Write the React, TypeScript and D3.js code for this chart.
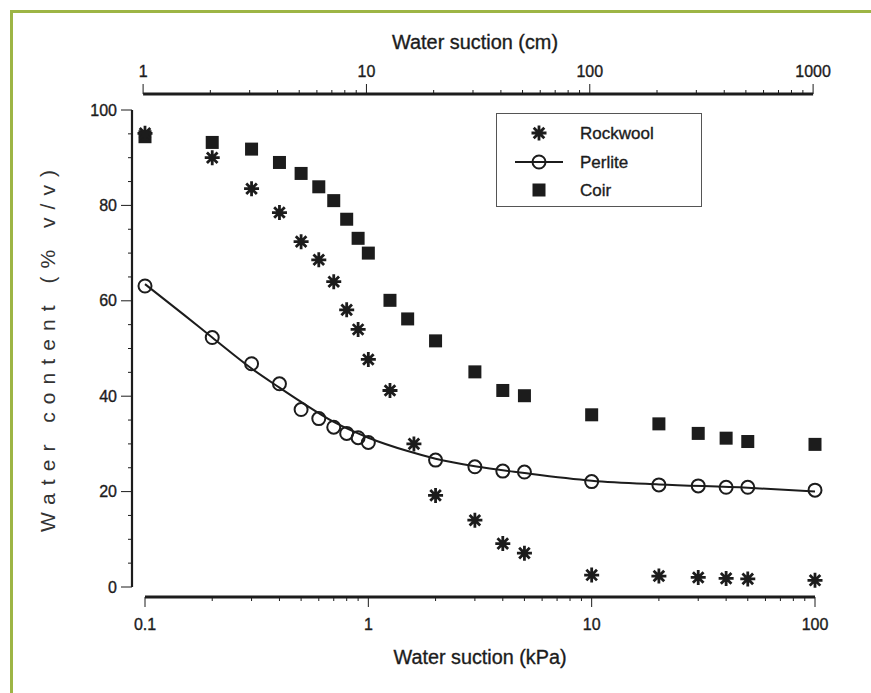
import * as d3 from 'd3';

const WIDTH = 871;
const HEIGHT = 693;
const FONT = "'Liberation Sans', Arial, sans-serif";
const INK = '#1c1c1c';
const KPA_TO_CM = 10.197;

// suction in kPa, water content in % v/v
const rockwoolX = [0.1, 0.2, 0.3, 0.4, 0.5, 0.6, 0.7, 0.8, 0.9, 1, 1.25, 1.6, 2, 3, 4, 5, 10, 20, 30, 40, 50, 100];
const rockwoolY = [95.1, 90.0, 83.5, 78.5, 72.4, 68.6, 64.0, 58.1, 54.0, 47.7, 41.2, 30.0, 19.2, 14.0, 9.1, 7.1, 2.5, 2.3, 2.0, 1.8, 1.7, 1.4];

const perliteX = [0.1, 0.2, 0.3, 0.4, 0.5, 0.6, 0.7, 0.8, 0.9, 1, 2, 3, 4, 5, 10, 20, 30, 40, 50, 100];
const perliteY = [63.1, 52.3, 46.8, 42.6, 37.2, 35.3, 33.5, 32.2, 31.3, 30.3, 26.6, 25.2, 24.3, 24.1, 22.1, 21.4, 21.2, 20.9, 20.9, 20.3];

// fitted curve through perlite
const perliteFitX = [0.1, 0.15, 0.2, 0.3, 0.4, 0.5, 0.7, 1, 1.5, 2, 3, 5, 10, 20, 50, 100];
const perliteFitY = [63.5, 57.0, 52.3, 45.8, 41.8, 38.8, 34.6, 31.3, 28.5, 26.9, 25.3, 23.9, 22.3, 21.5, 20.8, 20.0];

const coirX = [0.1, 0.2, 0.3, 0.4, 0.5, 0.6, 0.7, 0.8, 0.9, 1, 1.25, 1.5, 2, 3, 4, 5, 10, 20, 30, 40, 50, 100];
const coirY = [94.4, 93.2, 91.8, 89.0, 86.7, 83.9, 81.0, 77.1, 73.1, 70.0, 60.1, 56.2, 51.6, 45.1, 41.2, 40.1, 36.1, 34.2, 32.2, 31.2, 30.5, 29.9];

const kpaTicks = [0.1, 1, 10, 100];
const cmTicks = [1, 10, 100, 1000];
const yTicks = [0, 20, 40, 60, 80, 100];

// plot frame (pixels)
const X0 = 145;
const X1 = 815;
const Y_TOP = 110;
const Y_BOTTOM = 587;
const Y_AXIS_X = 132;
const BOTTOM_AXIS_Y = 597;
const TOP_AXIS_Y = 94;

const minorLog = (lo: number, hi: number) => {
  const out: number[] = [];
  for (let d = lo; d < hi; d *= 10) {
    for (let k = 2; k <= 9; k++) out.push(d * k);
  }
  return out;
};

const Star = ({ x, y, r = 7.5 }: { x: number; y: number; r?: number }) => {
  const a = r * Math.SQRT1_2;
  return (
    <path
      d={`M${x - r},${y}H${x + r}M${x},${y - r}V${y + r}M${x - a},${y - a}L${x + a},${y + a}M${x - a},${y + a}L${x + a},${y - a}`}
      stroke={INK}
      strokeWidth={2.8}
    />
  );
};

const Chart = () => {
  const xScale = d3.scaleLog().domain([0.1, 100]).range([X0, X1]);
  const xTop = d3.scaleLog().domain([0.1 * KPA_TO_CM, 100 * KPA_TO_CM]).range([X0, X1]);
  const yScale = d3.scaleLinear().domain([0, 100]).range([Y_BOTTOM, Y_TOP]);

  const fitLine = d3
    .line<number>()
    .x((d) => xScale(perliteFitX[d]))
    .y((d) => yScale(perliteFitY[d]))
    .curve(d3.curveMonotoneX);

  const yMinor = d3.range(0, 101, 5).filter((v) => v % 20 !== 0);

  return (
    <svg width={WIDTH} height={HEIGHT} style={{ position: 'absolute', left: 0, top: 0, background: '#fff' }}>
      {/* green page frame */}
      <line x1={10} x2={WIDTH} y1={11.5} y2={11.5} stroke="#9db545" strokeWidth={3} />
      <line x1={11.5} x2={11.5} y1={10} y2={HEIGHT} stroke="#9db545" strokeWidth={3} />

      <g fontFamily={FONT} fill={INK} stroke={INK} strokeWidth={0.35}>
        {/* top axis (cm) */}
        <text x={475} y={42} textAnchor="middle" dominantBaseline="central" fontSize={20} textLength={166} lengthAdjust="spacingAndGlyphs">
          Water suction (cm)
        </text>
        {cmTicks.map((v) => (
          <text key={v} x={xTop(v)} y={71} textAnchor="middle" dominantBaseline="central" fontSize={16}>
            {v}
          </text>
        ))}

        {/* bottom axis (kPa) */}
        {kpaTicks.map((v) => (
          <text key={v} x={xScale(v)} y={624} textAnchor="middle" dominantBaseline="central" fontSize={16}>
            {v}
          </text>
        ))}
        <text x={480} y={657} textAnchor="middle" dominantBaseline="central" fontSize={20} textLength={173} lengthAdjust="spacingAndGlyphs">
          Water suction (kPa)
        </text>

        {/* left axis labels */}
        {yTicks.map((v) => (
          <text key={v} x={117} y={yScale(v)} textAnchor="end" dominantBaseline="central" fontSize={16}>
            {v}
          </text>
        ))}
      </g>

      <text
        transform="translate(47,351) rotate(-90)"
        textAnchor="middle"
        dominantBaseline="central"
        fontFamily={FONT}
        fontSize={21}
        fill="#333"
        textLength={362}
        lengthAdjust="spacing"
      >
        Water content (% v/v)
      </text>

      {/* axis lines and ticks */}
      <g stroke={INK}>
        <line x1={xTop(1)} x2={xTop(1000)} y1={TOP_AXIS_Y} y2={TOP_AXIS_Y} strokeWidth={3} />
        {minorLog(1, 1000).map((v, i) => (
          <line key={i} x1={xTop(v)} x2={xTop(v)} y1={TOP_AXIS_Y} y2={TOP_AXIS_Y - 4} strokeWidth={1} />
        ))}
        {cmTicks.map((v) => (
          <line key={v} x1={xTop(v)} x2={xTop(v)} y1={TOP_AXIS_Y} y2={TOP_AXIS_Y - 10} strokeWidth={1} />
        ))}

        <line x1={X0} x2={X1} y1={BOTTOM_AXIS_Y} y2={BOTTOM_AXIS_Y} strokeWidth={3} />
        {minorLog(0.1, 100).map((v, i) => (
          <line key={i} x1={xScale(v)} x2={xScale(v)} y1={BOTTOM_AXIS_Y} y2={BOTTOM_AXIS_Y + 4} strokeWidth={1} />
        ))}
        {kpaTicks.map((v) => (
          <line key={v} x1={xScale(v)} x2={xScale(v)} y1={BOTTOM_AXIS_Y} y2={BOTTOM_AXIS_Y + 10} strokeWidth={1} />
        ))}

        <line x1={Y_AXIS_X} x2={Y_AXIS_X} y1={Y_TOP} y2={Y_BOTTOM} strokeWidth={2.2} />
        {yMinor.map((v) => (
          <line key={v} x1={Y_AXIS_X} x2={Y_AXIS_X - 4} y1={yScale(v)} y2={yScale(v)} strokeWidth={1} />
        ))}
        {yTicks.map((v) => (
          <line key={v} x1={Y_AXIS_X} x2={Y_AXIS_X - 11} y1={yScale(v)} y2={yScale(v)} strokeWidth={1} />
        ))}
      </g>

      {/* perlite fit */}
      <path d={fitLine(d3.range(perliteFitX.length)) ?? ''} fill="none" stroke={INK} strokeWidth={2} />

      {/* markers */}
      {coirX.map((v, i) => (
        <rect key={`c${i}`} x={xScale(v) - 6.5} y={yScale(coirY[i]) - 6.5} width={13} height={13} fill={INK} />
      ))}
      {perliteX.map((v, i) => (
        <circle key={`p${i}`} cx={xScale(v)} cy={yScale(perliteY[i])} r={6.5} fill="none" stroke={INK} strokeWidth={2} />
      ))}
      {rockwoolX.map((v, i) => (
        <Star key={`r${i}`} x={xScale(v)} y={yScale(rockwoolY[i])} />
      ))}

      {/* legend */}
      <rect x={496.5} y={113.5} width={205} height={93} fill="#fff" stroke="#555" strokeWidth={1} />
      <Star x={539} y={133} />
      <line x1={515} x2={563} y1={162} y2={162} stroke={INK} strokeWidth={2} />
      <circle cx={539} cy={162} r={6.5} fill="none" stroke={INK} strokeWidth={2} />
      <rect x={532.5} y={183.5} width={13} height={13} fill={INK} />
      <g fontFamily={FONT} fontSize={17} fill={INK} stroke={INK} strokeWidth={0.35}>
        <text x={580} y={133} dominantBaseline="central">Rockwool</text>
        <text x={580} y={162} dominantBaseline="central">Perlite</text>
        <text x={580} y={190} dominantBaseline="central">Coir</text>
      </g>
    </svg>
  );
};

export default function App() {
  return <Chart />;
}
